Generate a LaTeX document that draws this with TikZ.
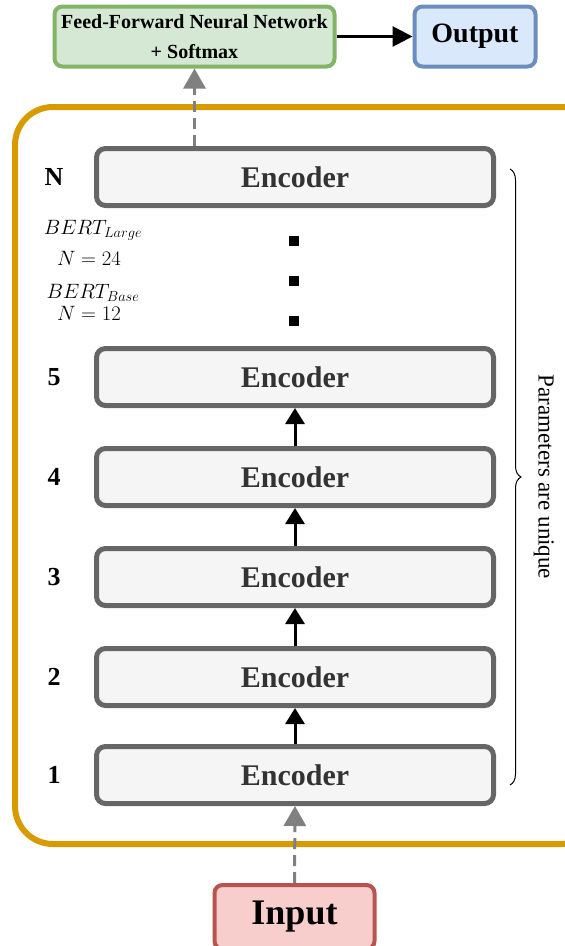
\documentclass[tikz,border=0pt]{standalone}
\usepackage{fontspec}
\setmainfont{Liberation Serif}
\DeclareMathSizes{21}{21}{15.5}{11}
\usetikzlibrary{arrows.meta,decorations.pathreplacing,calc}
\definecolor{encfill}{HTML}{F5F5F5}
\definecolor{encline}{HTML}{666666}
\definecolor{enctext}{HTML}{333333}
\definecolor{ffnfill}{HTML}{D5E8D4}
\definecolor{ffnline}{HTML}{82B366}
\definecolor{outfill}{HTML}{DAE8FC}
\definecolor{outline}{HTML}{6C8EBF}
\definecolor{infill}{HTML}{F8CECC}
\definecolor{inline}{HTML}{B85450}
\definecolor{stackline}{HTML}{D79B00}
\definecolor{dashgray}{HTML}{808080}
\tikzset{
  encbox/.style={draw=encline, fill=encfill, line width=5pt, rounded corners=9pt,
    minimum width=397pt, minimum height=57pt, inner sep=0pt,
    font=\fontsize{30}{32}\selectfont\bfseries, text=enctext},
  layerlbl/.style={font=\fontsize{26}{28}\selectfont\bfseries},
  uparrow/.style={line width=3pt, -{Triangle[length=16pt,width=19pt]}},
  feedarrow/.style={line width=3pt, dashgray, dash pattern=on 11pt off 6pt,
    -{Triangle[length=20pt,width=22pt]}},
  dotsq/.style={fill=black, minimum size=10pt, inner sep=0pt},
  mathlbl/.style={font=\fontsize{21}{23}\selectfont},
}
\begin{document}
\begin{tikzpicture}[x=1pt,y=-1pt]
\useasboundingbox (0,0) rectangle (565,946);
% encoder stack container
\draw[stackline, line width=6pt, rounded corners=38pt] (15,107) rectangle (600,844);
% top: classifier head and output
\node[draw=ffnline, fill=ffnfill, line width=4pt, rounded corners=8pt,
  minimum width=280pt, minimum height=60pt, inner sep=0pt, align=center,
  font=\fontsize{20}{30}\selectfont\bfseries] (ffn) at (194.5,36.5)
  {Feed-Forward Neural Network\\+ Softmax};
\node[draw=outline, fill=outfill, line width=4pt, rounded corners=8pt,
  minimum width=121pt, minimum height=60pt, inner sep=0pt,
  font=\fontsize{28}{30}\selectfont\bfseries] (out) at (475,36.5) {Output};
\draw[line width=3pt, -{Triangle[length=20pt,width=20pt]}] (ffn.east) -- (out.west);
% encoders
\node[encbox] (eN) at (295,177) {Encoder};
\node[encbox] (e5) at (295,377) {Encoder};
\node[encbox] (e4) at (295,477) {Encoder};
\node[encbox] (e3) at (295,577) {Encoder};
\node[encbox] (e2) at (295,677) {Encoder};
\node[encbox] (e1) at (295,775) {Encoder};
% layer numbers
\node[layerlbl] (lN) at (54,177) {N};
\node[layerlbl] (l5) at (54,377) {5};
\node[layerlbl] (l4) at (54,477) {4};
\node[layerlbl] (l3) at (54,577) {3};
\node[layerlbl] (l2) at (54,677) {2};
\node[layerlbl] (l1) at (54,775) {1};
% model sizes
\node[mathlbl] (bl) at (93,230) {$BERT_{Large}$};
\node[mathlbl] (nl) at (89,258) {$N=24$};
\node[mathlbl] (bb) at (93,293) {$BERT_{Base}$};
\node[mathlbl] (nb) at (89,313) {$N=12$};
% ellipsis between layer 5 and layer N
\node[dotsq] (d1) at (294,241) {};
\node[dotsq] (d2) at (294,281) {};
\node[dotsq] (d3) at (294,321) {};
% flow between encoders
\draw[uparrow] (e1.north) -- (e2.south);
\draw[uparrow] (e2.north) -- (e3.south);
\draw[uparrow] (e3.north) -- (e4.south);
\draw[uparrow] (e4.north) -- (e5.south);
% input
\node[draw=inline, fill=infill, line width=4pt, rounded corners=8pt,
  minimum width=160pt, minimum height=64pt, inner sep=0pt,
  font=\fontsize{36}{38}\selectfont\bfseries] (in) at (294.5,917) {Input};
\draw[feedarrow] (in.north) -- (e1.south);
\draw[feedarrow] (eN.north -| ffn.south) -- (ffn.south);
% shared-parameter brace
\coordinate (bt) at (510,169);
\coordinate (bb2) at (510,785);
\draw[line width=1pt, decorate, decoration={brace, amplitude=11pt}] (bt) -- (bb2)
  node[midway, right=20pt, rotate=-90, anchor=south,
    font=\fontsize{23}{25}\selectfont] (pu) {Parameters are unique};
\end{tikzpicture}
\end{document}
